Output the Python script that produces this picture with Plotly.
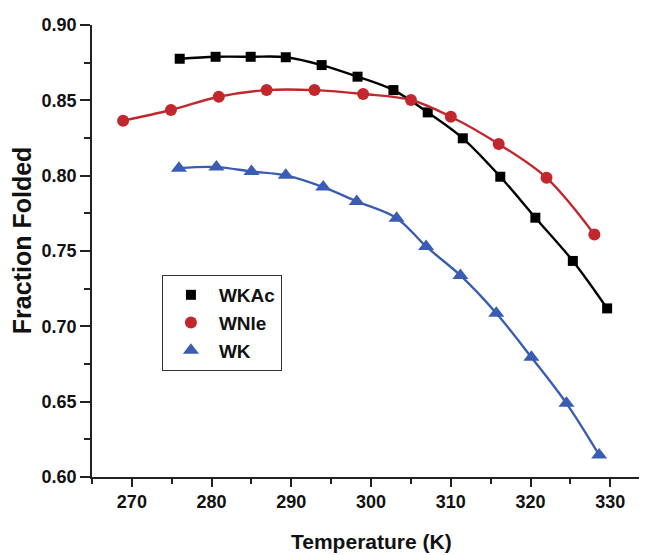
import plotly.graph_objects as go

# Data
T_wkac = [276.0, 280.5, 284.9, 289.3, 293.8, 298.3, 302.8, 307.1, 311.5, 316.2, 320.6, 325.3, 329.6]
F_wkac = [0.8776, 0.8789, 0.8789, 0.8786, 0.8734, 0.8657, 0.8568, 0.8420, 0.8248, 0.7993, 0.7721, 0.7434, 0.7119]

T_wnle = [268.9, 274.9, 280.9, 286.9, 292.9, 299.0, 305.0, 310.0, 316.0, 322.0, 328.0]
F_wnle = [0.8365, 0.8436, 0.8524, 0.8568, 0.8568, 0.8542, 0.8502, 0.8391, 0.8210, 0.7986, 0.7610]

T_wk = [275.9, 280.6, 285.0, 289.3, 294.0, 298.2, 303.2, 306.9, 311.2, 315.7, 320.1, 324.5, 328.6]
F_wk = [0.8050, 0.8057, 0.8028, 0.8002, 0.7924, 0.7829, 0.7718, 0.7530, 0.7338, 0.7087, 0.6795, 0.6489, 0.6146]

x_title = "Temperature (K)"
y_title = "Fraction Folded"

series = [
    ("WKAc", T_wkac, F_wkac, "#000000", "square", 10),
    ("WNle", T_wnle, F_wnle, "#c1272d", "circle", 12),
    ("WK", T_wk, F_wk, "#3a5db3", "triangle-up", 14),
]

FONT = "Liberation Sans, Arial, sans-serif"

fig = go.Figure()
for name, x, y, color, sym, size in series:
    fig.add_trace(go.Scatter(
        x=x, y=y, mode="lines", line=dict(color=color, width=2.4, shape="spline", smoothing=1.0),
        showlegend=False, hoverinfo="skip"))
    fig.add_trace(go.Scatter(
        x=x, y=y, mode="markers", name=name,
        marker=dict(symbol=sym, size=size, color=color, line=dict(width=0))))

axis_common = dict(
    showgrid=False, zeroline=False, showline=True, linecolor="#222", linewidth=1.5,
    ticks="outside", tickwidth=1.5, tickcolor="#222", automargin=False,
    tickfont=dict(family=FONT, size=18, color="#111", weight="bold"),
    mirror=False,
)

# The page body adds an 8 px offset, so the figure is sized to fill the rest of the window.
fig.update_layout(
    width=639, height=547,
    margin=dict(l=84, r=0, t=17, b=78),
    paper_bgcolor="white", plot_bgcolor="white",
    font=dict(family=FONT),
    xaxis=dict(
        range=[265, 334.6], tick0=270, dtick=10, ticklen=8,
        minor=dict(ticks="outside", dtick=5, tick0=265, ticklen=5, tickwidth=1.5, tickcolor="#222"),
        **axis_common),
    yaxis=dict(
        range=[0.60, 0.90], tick0=0.60, dtick=0.05, ticklen=10, tickformat=".2f",
        minor=dict(ticks="outside", dtick=0.025, tick0=0.60, ticklen=6, tickwidth=1.5, tickcolor="#222"),
        **axis_common),
    legend=dict(
        x=0.126, y=0.447, xanchor="left", yanchor="top",
        bordercolor="#333", borderwidth=1, bgcolor="white",
        font=dict(family=FONT, size=19, color="#111", weight="bold"),
        itemwidth=46, tracegroupgap=0,
    ),
    annotations=[
        dict(text=x_title, xref="paper", yref="paper", x=0.5045, y=-0.1416,
             xanchor="center", yanchor="middle", showarrow=False,
             font=dict(family=FONT, size=21, color="#111", weight="bold")),
        dict(text=y_title, xref="paper", yref="paper", x=-0.1261, y=0.524,
             xanchor="center", yanchor="middle", showarrow=False, textangle=-90,
             font=dict(family=FONT, size=25, color="#111", weight="bold")),
    ],
)

fig.write_html("out.html")
